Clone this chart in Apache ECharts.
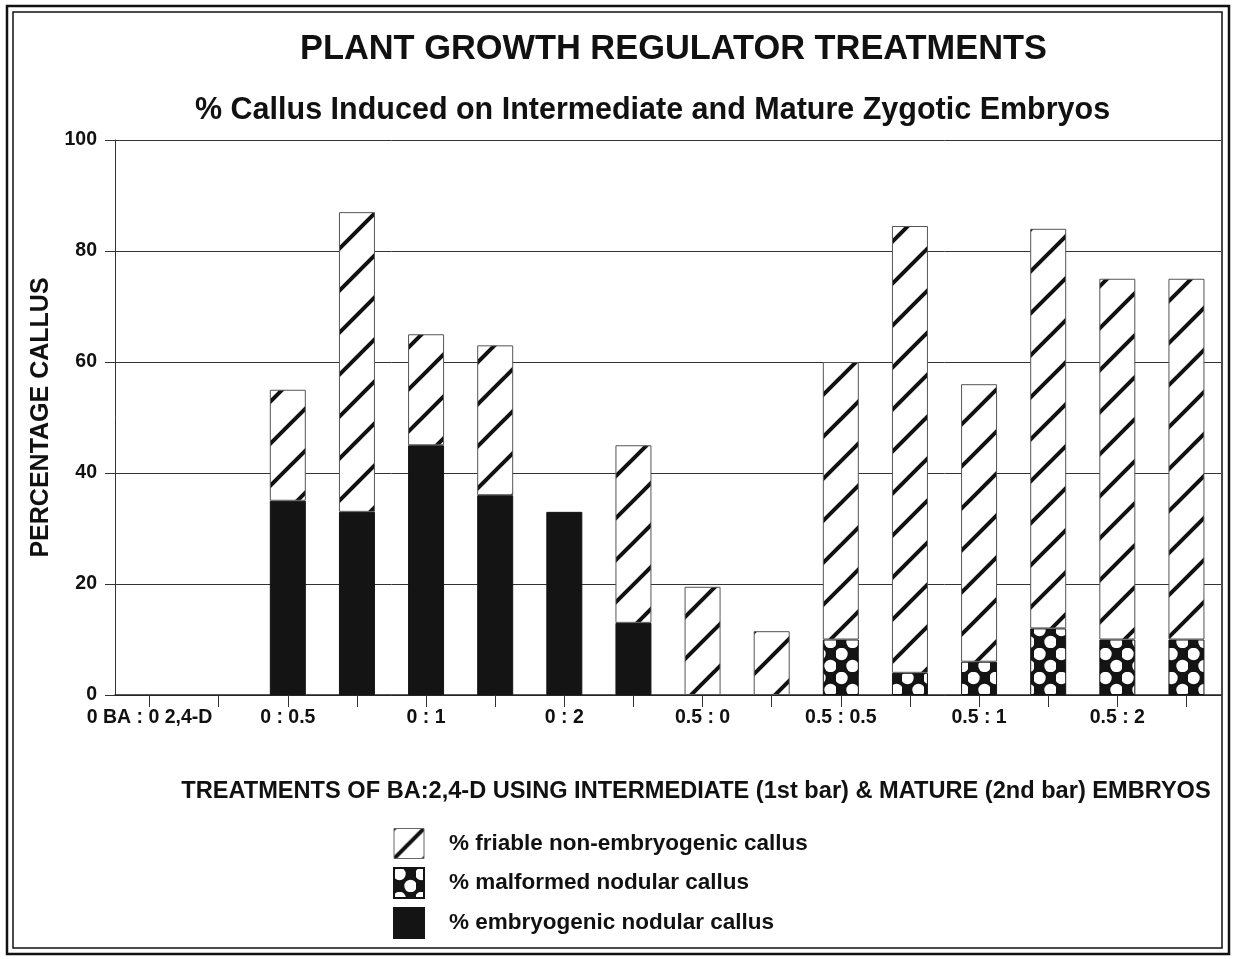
<!DOCTYPE html>
<html>
<head>
<meta charset="utf-8">
<title>Plant growth regulator treatments</title>
<script src="https://cdn.jsdelivr.net/npm/echarts/dist/echarts.min.js"></script>
<style>
    html, body { margin: 0; padding: 0; background: #fff; }
    #myChart { width: 1236px; height: 959px; }
</style>
</head>
<body>
<div id="myChart"></div>
<script>
// treatments (BA : 2,4-D), each one has an intermediate bar and a mature bar
let treatments = ['0 BA : 0 2,4-D', '0 : 0.5', '0 : 1', '0 : 2', '0.5 : 0', '0.5 : 0.5', '0.5 : 1', '0.5 : 2'];
let embryoTypes = ['1st', '2nd'];
let yTicks = [0, 20, 40, 60, 80, 100];

// % callus, one value per bar (16 bars)
let embryogenic = [null, null, 35, 33, 45, 36, 33, 13, null, null, null, null, null, null, null, null];
let malformed = [null, null, null, null, null, null, null, null, null, null, 10, 4, 6, 12, 10, 10];
let friable = [null, null, 20, 54, 20, 27, null, 32, 19.5, 11.5, 50, 80.5, 50, 72, 65, 65];

let seriesNames = ['% friable non-embryogenic callus', '% malformed nodular callus', '% embryogenic nodular callus'];

let font = "'Liberation Sans', Arial, sans-serif";

// diagonal hatching, white with black stripes
function stripes(size, lw) {
    let c = document.createElement('canvas');
    c.width = size;
    c.height = size;
    let ctx = c.getContext('2d');
    ctx.fillStyle = '#fff';
    ctx.fillRect(0, 0, size, size);
    ctx.strokeStyle = '#111';
    ctx.lineWidth = lw;
    [0, size, 2 * size].forEach(function (k) {
        ctx.beginPath();
        ctx.moveTo(-size, k + size);
        ctx.lineTo(k + size, -size);
        ctx.stroke();
    });
    return { image: c, repeat: 'repeat' };
}

// black with white dots in a staggered grid
function dots(w, h, r) {
    let c = document.createElement('canvas');
    c.width = w;
    c.height = h;
    let ctx = c.getContext('2d');
    ctx.fillStyle = '#141414';
    ctx.fillRect(0, 0, w, h);
    ctx.fillStyle = '#fff';
    [[w / 4, h / 4], [w * 3 / 4, h * 3 / 4]].forEach(function (p) {
        ctx.beginPath();
        ctx.arc(p[0], p[1], r, 0, Math.PI * 2);
        ctx.fill();
    });
    return { image: c, repeat: 'repeat' };
}

let categories = [];
treatments.forEach(function (t) {
    embryoTypes.forEach(function (e) {
        categories.push(t + '|' + e);
    });
});

let myChart = echarts.init(document.getElementById('myChart'));

let option = {
    backgroundColor: '#fff',
    animation: false,
    textStyle: { fontFamily: font },
    title: [
        {
            text: 'PLANT GROWTH REGULATOR TREATMENTS',
            left: 295,
            top: 28,
            textStyle: { fontSize: 34.4, fontWeight: 'bold', color: '#111', fontFamily: font }
        },
        {
            text: '% Callus Induced on Intermediate and Mature Zygotic Embryos',
            left: 190,
            top: 90,
            textStyle: { fontSize: 30.5, fontWeight: 'bold', color: '#111', fontFamily: font }
        }
    ],
    graphic: [
        { type: 'rect', shape: { x: 7, y: 6, width: 1222, height: 948 }, style: { fill: 'none', stroke: '#111', lineWidth: 2.5 } },
        { type: 'rect', shape: { x: 13, y: 12, width: 1209, height: 936 }, style: { fill: 'none', stroke: '#111', lineWidth: 1.5 } }
    ],
    legend: {
        orient: 'vertical',
        left: 388,
        top: 823,
        icon: 'rect',
        itemWidth: 30,
        itemHeight: 30,
        itemGap: 8,
        selectedMode: false,
        data: [
            { name: seriesNames[0], itemStyle: { color: stripes(30, 4), borderColor: '#666', borderWidth: 1 } },
            { name: seriesNames[1] },
            { name: seriesNames[2] }
        ],
        textStyle: { fontSize: 22.5, fontWeight: 'bold', color: '#111', fontFamily: font, padding: [0, 0, 0, 20] }
    },
    grid: {
        left: 115,
        right: 15,
        top: 140,
        bottom: 264
    },
    xAxis: {
        type: 'category',
        data: categories,
        name: 'TREATMENTS OF BA:2,4-D USING INTERMEDIATE (1st bar) & MATURE (2nd bar) EMBRYOS',
        nameLocation: 'middle',
        nameGap: 84,
        nameTextStyle: { fontSize: 23.6, fontWeight: 'bold', color: '#111', fontFamily: font, padding: [0, 0, 0, 56] },
        axisLine: { lineStyle: { color: '#222', width: 1.5 } },
        axisTick: { show: true, alignWithLabel: true, interval: 0, length: 12, lineStyle: { color: '#333' } },
        axisLabel: {
            interval: 1,
            margin: 13,
            fontSize: 19.5,
            fontWeight: 'bold',
            color: '#111',
            fontFamily: font,
            formatter: function (v) { return v.split('|')[0]; }
        }
    },
    yAxis: {
        type: 'value',
        min: yTicks[0],
        max: yTicks[yTicks.length - 1],
        interval: yTicks[1] - yTicks[0],
        name: 'PERCENTAGE CALLUS',
        nameLocation: 'middle',
        nameRotate: 90,
        nameGap: 58,
        nameTextStyle: { fontSize: 25, fontWeight: 'bold', color: '#111', fontFamily: font },
        axisLine: { show: true, lineStyle: { color: '#333', width: 1 } },
        axisTick: { show: true, length: 10, lineStyle: { color: '#333' } },
        axisLabel: { margin: 18, fontSize: 19.5, fontWeight: 'bold', color: '#111', fontFamily: font },
        splitLine: { lineStyle: { color: '#333', width: 1 } }
    },
    series: [
        {
            name: seriesNames[2],
            type: 'bar',
            stack: 'callus',
            barWidth: 36,
            data: embryogenic,
            itemStyle: { color: '#141414', borderColor: '#141414', borderWidth: 1 }
        },
        {
            name: seriesNames[1],
            type: 'bar',
            stack: 'callus',
            barWidth: 36,
            data: malformed,
            itemStyle: { color: dots(22, 24, 6.2), borderColor: '#141414', borderWidth: 1 }
        },
        {
            name: seriesNames[0],
            type: 'bar',
            stack: 'callus',
            barWidth: 36,
            data: friable,
            itemStyle: { color: stripes(42, 4), borderColor: '#555', borderWidth: 1 }
        }
    ]
};

myChart.setOption(option);
</script>
</body>
</html>
